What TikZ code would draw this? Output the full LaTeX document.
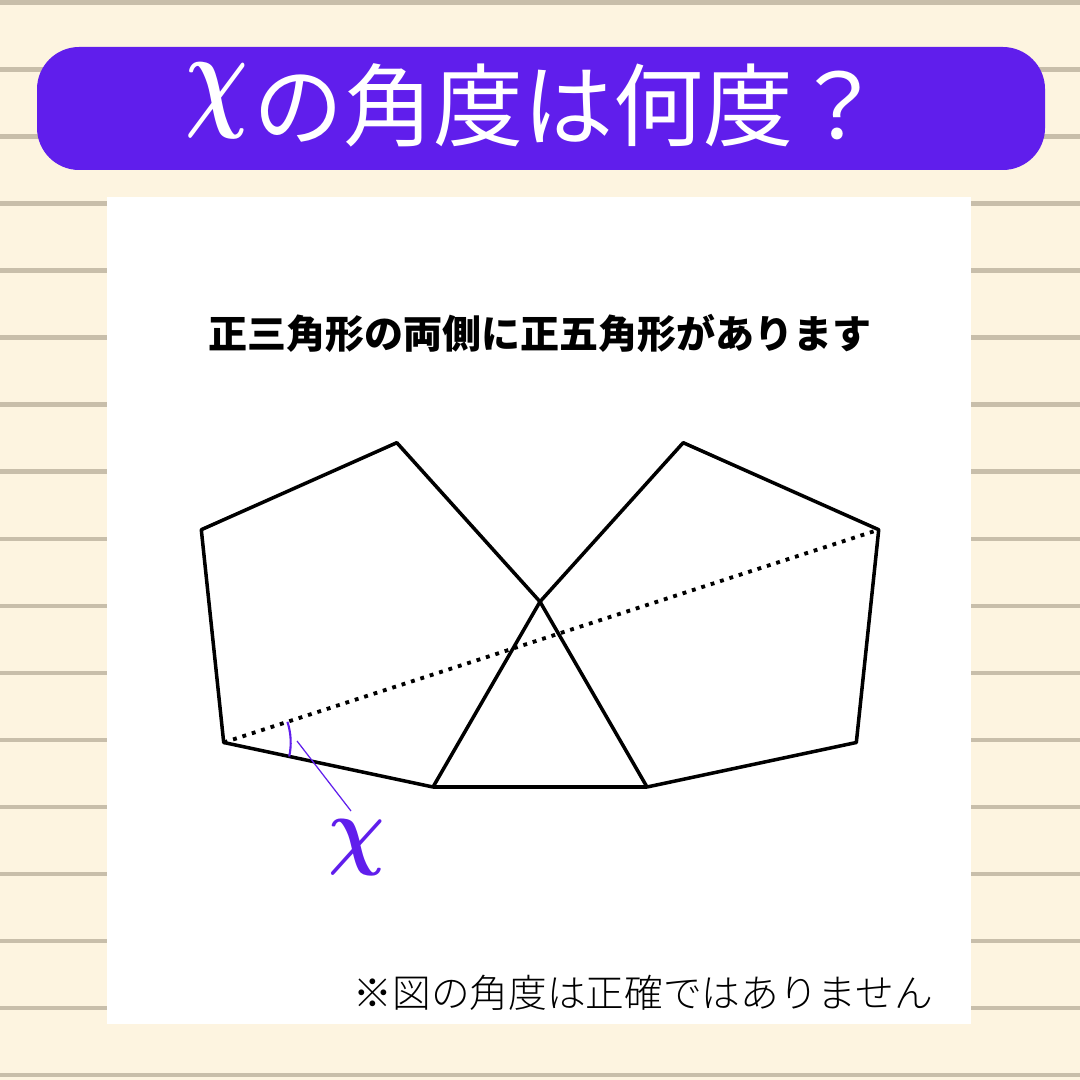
\documentclass[tikz,border=0pt]{standalone}
\usepackage{fontspec}
\usepackage{bm}
\usetikzlibrary{calc}
\newfontfamily\cjk{Noto Sans CJK JP}
\newfontfamily\cjklight{Noto Sans CJK JP Light}
\definecolor{cream}{RGB}{253,244,224}
\definecolor{ruling}{RGB}{200,190,170}
\definecolor{violet}{RGB}{96,30,236}

\begin{document}
\begin{tikzpicture}[x=0.01cm, y=-0.01cm,
  edge/.style={line width=1pt, line join=round},
  hint/.style={line width=1.1pt, dash pattern=on 1.1pt off 1.7pt},
  lbl/.style={inner sep=0pt}]
% paper
\fill[cream] (0,0) rectangle (1080,1080);
\foreach \k in {0,...,16}{
  \fill[ruling] (0,{0.5+67*\k}) rectangle (1080,{5+67*\k});
}
\fill[violet, rounded corners=12pt] (37,47) rectangle (1045,170);
\fill[white] (107,197) rectangle (971,1024);

\node[lbl, anchor=base west, text=white, font=\cjk\fontsize{25.6pt}{30pt}\selectfont] (title) at (185,140)
  {\raisebox{0.27em}{\scalebox{1.0}[1.35]{$\bm{\chi}$}}\hspace{0.05em}の角度は何度？};
\node[lbl, font=\cjk\bfseries\fontsize{11.1pt}{13pt}\selectfont] (task) at (540,333)
  {正三角形の両側に正五角形があります};

% triangle and pentagons
\coordinate (A) at (540,601.7);
\coordinate (B) at (433,787);
\coordinate (C) at (647,787);
\coordinate (L1) at (223.7,742.5);
\coordinate (L2) at (201.3,529.7);
\coordinate (L3) at (396.8,442.7);
\coordinate (R1) at (856.3,742.5);
\coordinate (R2) at (878.7,529.7);
\coordinate (R3) at (683.2,442.7);
\draw[edge] (A) -- (B) -- (L1) -- (L2) -- (L3) -- cycle;
\draw[edge] (A) -- (C) -- (R1) -- (R2) -- (R3) -- cycle;
\draw[edge] (B) -- (C);
\draw[hint] (L1) -- (R2);

% angle x
\draw[violet, line width=0.6pt] (L1) ++(12:67) arc[start angle=12, end angle=-18, radius=67];
\coordinate (tick) at (297,741);
\coordinate (foot) at (351,811);
\draw[violet, line width=0.35pt] (tick) -- (foot);
\node[lbl, text=violet, font=\fontsize{26pt}{30pt}\selectfont] (xlbl) at (357,848) {\scalebox{0.9}[1]{$\bm{\chi}$}};

\node[lbl, anchor=west, font=\cjklight\fontsize{11pt}{13pt}\selectfont] (note) at (353,993)
  {※図の角度は正確ではありません};
\end{tikzpicture}
\end{document}
